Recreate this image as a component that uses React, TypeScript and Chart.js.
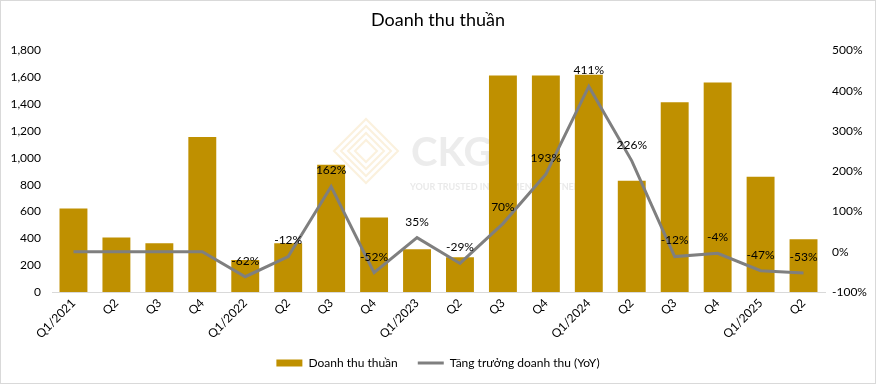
import React, { useEffect, useRef } from "react";
import { Chart, registerables } from "chart.js";

Chart.register(...registerables);

const categories = ["Q1/2021", "Q2", "Q3", "Q4", "Q1/2022", "Q2", "Q3", "Q4", "Q1/2023", "Q2", "Q3", "Q4", "Q1/2024", "Q2", "Q3", "Q4", "Q1/2025", "Q2"];
const revenue = [622, 407, 363, 1155, 239, 363, 948, 555, 318, 259, 1615, 1615, 1620, 830, 1415, 1563, 859, 393];
const growth = [0, 0, 0, 0, -62, -12, 162, -52, 35, -29, 70, 193, 411, 226, -12, -4, -47, -53];
const growthLabels = [null, null, null, null, "-62%", "-12%", "162%", "-52%", "35%", "-29%", "70%", "193%", "411%", "226%", "-12%", "-4%", "-47%", "-53%"];

const FONT = "Lato, 'Open Sans', sans-serif";

const labelPlugin = {
  id: "lineLabels",
  afterDatasetsDraw(chart: any) {
    const meta = chart.getDatasetMeta(1);
    const ctx = chart.ctx;
    ctx.save();
    ctx.font = `12px ${FONT}`;
    ctx.fillStyle = "#000";
    ctx.textAlign = "center";
    ctx.textBaseline = "middle";
    meta.data.forEach((pt: any, i: number) => {
      const t = growthLabels[i];
      if (!t) return;
      ctx.fillText(t, pt.x, pt.y - 16);
    });
    ctx.restore();
  },
};

const rightTicksPlugin = {
  id: "rightTicks",
  afterDraw(chart: any) {
    const s = chart.scales.y1;
    const ctx = chart.ctx;
    ctx.save();
    ctx.font = `12px ${FONT}`;
    ctx.fillStyle = "#000";
    ctx.textAlign = "left";
    ctx.textBaseline = "middle";
    s.ticks.forEach((t: any) => {
      ctx.fillText(`${t.value}%`, s.left + 7, s.getPixelForValue(t.value));
    });
    ctx.restore();
  },
};

const watermarkPlugin = {
  id: "watermark",
  beforeDatasetsDraw(chart: any) {
    const ctx = chart.ctx;
    ctx.save();
    ctx.fillStyle = "rgba(200,200,200,0.35)";
    ctx.font = `bold 40px ${FONT}`;
    ctx.textAlign = "left";
    ctx.textBaseline = "middle";
    ctx.fillText("CKG", 410, 152);
    ctx.font = `bold 9px ${FONT}`;
    ctx.fillStyle = "rgba(200,200,200,0.4)";
    ctx.fillText("YOUR TRUSTED INVESTMENT PARTNER", 409, 186);
    ctx.strokeStyle = "rgba(240,200,120,0.25)";
    ctx.lineWidth = 2;
    for (let k = 0; k < 4; k++) {
      const s = 32 - k * 7;
      ctx.beginPath();
      ctx.moveTo(365 - s, 150);
      ctx.lineTo(365, 150 - s);
      ctx.lineTo(365 + s, 150);
      ctx.lineTo(365, 150 + s);
      ctx.closePath();
      ctx.stroke();
    }
    ctx.restore();
  },
};

export default function App() {
  const ref = useRef<HTMLCanvasElement>(null);
  useEffect(() => {
    if (!ref.current) return;
    const chart = new Chart(ref.current, {
      type: "bar",
      data: {
        labels: categories,
        datasets: [
          {
            type: "bar",
            label: "Doanh thu thuần",
            data: revenue,
            backgroundColor: "#BF9000",
            borderWidth: 0,
            categoryPercentage: 0.65,
            barPercentage: 1,
            yAxisID: "y",
            order: 2,
            pointStyle: "rect",
          } as any,
          {
            type: "line",
            label: "Tăng trưởng doanh thu (YoY)",
            data: growth,
            borderColor: "#7F7F7F",
            backgroundColor: "#7F7F7F",
            borderWidth: 3,
            pointRadius: 0,
            tension: 0,
            yAxisID: "y1",
            order: 1,
            pointStyle: "line",
          } as any,
        ],
      },
      options: {
        animation: false,
        responsive: true,
        maintainAspectRatio: false,
        layout: { padding: { left: 0, right: 0, top: 0, bottom: 4 } },
        plugins: {
          title: {
            display: true,
            text: "Doanh thu thuần",
            color: "#000",
            font: { family: FONT, size: 18, weight: "normal" },
            padding: { top: 8, bottom: 20 },
          },
          legend: {
            position: "bottom",
            labels: {
              usePointStyle: true,
              pointStyleWidth: 26,
              boxHeight: 7,
              color: "#000",
              font: { family: FONT, size: 12 },
              padding: 20,
              sort: (a: any, b: any) => a.datasetIndex - b.datasetIndex,
            },
          },
          tooltip: { enabled: false },
        },
        scales: {
          x: {
            grid: { display: false, drawTicks: false },
            border: { display: true, color: "#D9D9D9", width: 1 },
            ticks: {
              color: "#000",
              font: { family: FONT, size: 12 },
              maxRotation: 45,
              minRotation: 45,
              autoSkip: false,
              padding: 4,
            },
            afterFit: (s: any) => { s.height = 45; },
          },
          y: {
            position: "left",
            min: 0,
            max: 1800,
            grid: { display: false, drawTicks: false },
            border: { display: false },
            ticks: {
              stepSize: 200,
              color: "#000",
              font: { family: FONT, size: 12 },
              padding: 11,
              callback: (v: any) => Number(v).toLocaleString("en-US"),
            },
            afterFit: (s: any) => { s.width = 51; },
          },
          y1: {
            position: "right",
            min: -100,
            max: 500,
            grid: { display: false, drawTicks: false },
            border: { display: false },
            ticks: {
              stepSize: 100,
              display: false,
            },
            afterFit: (s: any) => { s.width = 50; },
          },
        },
      },
      plugins: [watermarkPlugin, labelPlugin, rightTicksPlugin],
    });
    return () => chart.destroy();
  }, []);
  return (
    <div
      style={{
        position: "fixed",
        left: 0,
        top: 0,
        width: 876,
        height: 384,
        boxSizing: "border-box",
        border: "1px solid #D9D9D9",
        background: "#fff",
      }}
    >
      <canvas ref={ref} />
    </div>
  );
}
